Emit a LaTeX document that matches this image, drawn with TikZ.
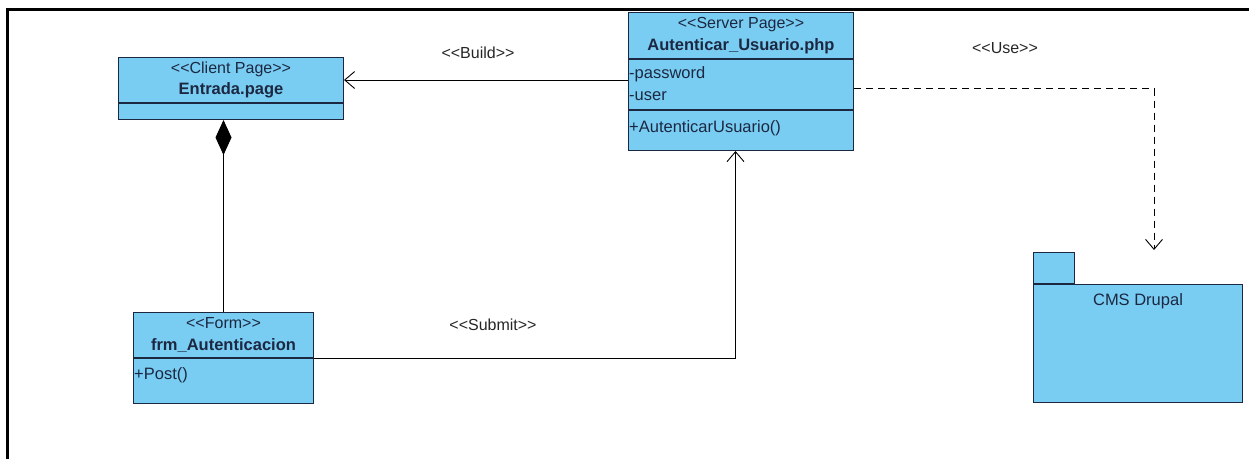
\documentclass[tikz,border=0pt]{standalone}
\usepackage{fontspec}
\setmainfont{Liberation Sans}
\usepackage{xcolor}
\usetikzlibrary{arrows.meta,positioning,calc}
\definecolor{umlfill}{RGB}{122,205,242}
\definecolor{umlline}{RGB}{28,40,66}
\newcommand{\stereo}[1]{<\kern0pt<#1>\kern0pt>}
\tikzset{
  part/.style={draw=umlline, fill=umlfill, line width=1pt, inner sep=2pt,
               anchor=north west},
  head/.style={part, align=center, text=umlline,
               font=\fontsize{16}{21.5}\selectfont},
  member/.style={anchor=base west, inner sep=1pt, text=umlline,
                 font=\fontsize{16.5}{18}\selectfont},
  lbl/.style={inner sep=1pt, text=black!85, font=\fontsize{16}{18}\selectfont},
  assoc/.style={-{Straight Barb[length=10pt,width=17pt]}, line width=0.9pt},
  usedep/.style={assoc, dash pattern=on 7pt off 5pt},
  compo/.style={{Diamond[length=35pt,width=16pt]}-, line width=0.9pt},
  frame/.style={line width=3pt, black},
}
\newcommand{\cname}[1]{{\fontsize{16.5}{21.5}\selectfont\bfseries #1}}

\begin{document}
\begin{tikzpicture}[x=1pt, y=-1pt]
  \useasboundingbox (0,0) rectangle (1249,459);
  \draw[frame] (7,459) -- (7,9) -- (1249,9);
  % client page
  \node[head, minimum width=225pt, minimum height=45pt] (entrada) at (118,57)
    {\stereo{Client Page}\\\cname{Entrada.page}};
  \node[part, minimum width=225pt, minimum height=16pt] (entradaops) at (entrada.south west) {};
  % server page
  \node[head, minimum width=225pt, minimum height=46pt] (srvhead) at (628,12)
    {\stereo{Server Page}\\\cname{Autenticar\_Usuario.php}};
  \node[part, minimum width=225pt, minimum height=50pt] (srvattr) at (srvhead.south west) {};
  \node[part, minimum width=225pt, minimum height=40pt] (srvops) at (srvattr.south west) {};
  \node[member] (pwd) at ([yshift=-19pt]srvattr.north west) {-password};
  \node[member] (usr) at ([yshift=-41pt]srvattr.north west) {-user};
  \node[member] (authop) at ([yshift=-22pt]srvops.north west) {+AutenticarUsuario()};
  % form
  \node[head, minimum width=180pt, minimum height=45pt] (frmhead) at (133,312)
    {\stereo{Form}\\\cname{frm\_Autenticacion}};
  \node[part, minimum width=180pt, minimum height=45pt] (frmops) at (frmhead.south west) {};
  \node[member] (postop) at ([yshift=-21pt]frmops.north west) {+Post()};
  % package
  \node[part, minimum width=41pt, minimum height=31pt] (pkgtab) at (1033,252) {};
  \node[part, minimum width=209pt, minimum height=118pt] (pkg) at (pkgtab.south west) {};
  \node[member, anchor=north] (pkgname) at ([yshift=-8pt]pkg.north) {CMS Drupal};
  \coordinate (useend) at (1154,250);
  % connectors
  \draw[assoc] (entrada.east -| srvattr.west) -- (entrada.east);
  \draw[compo] (frmhead.north |- entradaops.south) -- (frmhead.north);
  \draw[assoc] (frmhead.south east) -| ([xshift=-5.5pt]srvops.south);
  \draw[usedep] ([yshift=-4pt]srvattr.east) -| (useend);
  % labels
  \node[lbl] (buildlbl) at (478,53) {\stereo{Build}};
  \node[lbl] (submitlbl) at (493,325) {\stereo{Submit}};
  \node[lbl] (uselbl) at (1005,48) {\stereo{Use}};
\end{tikzpicture}
\end{document}
